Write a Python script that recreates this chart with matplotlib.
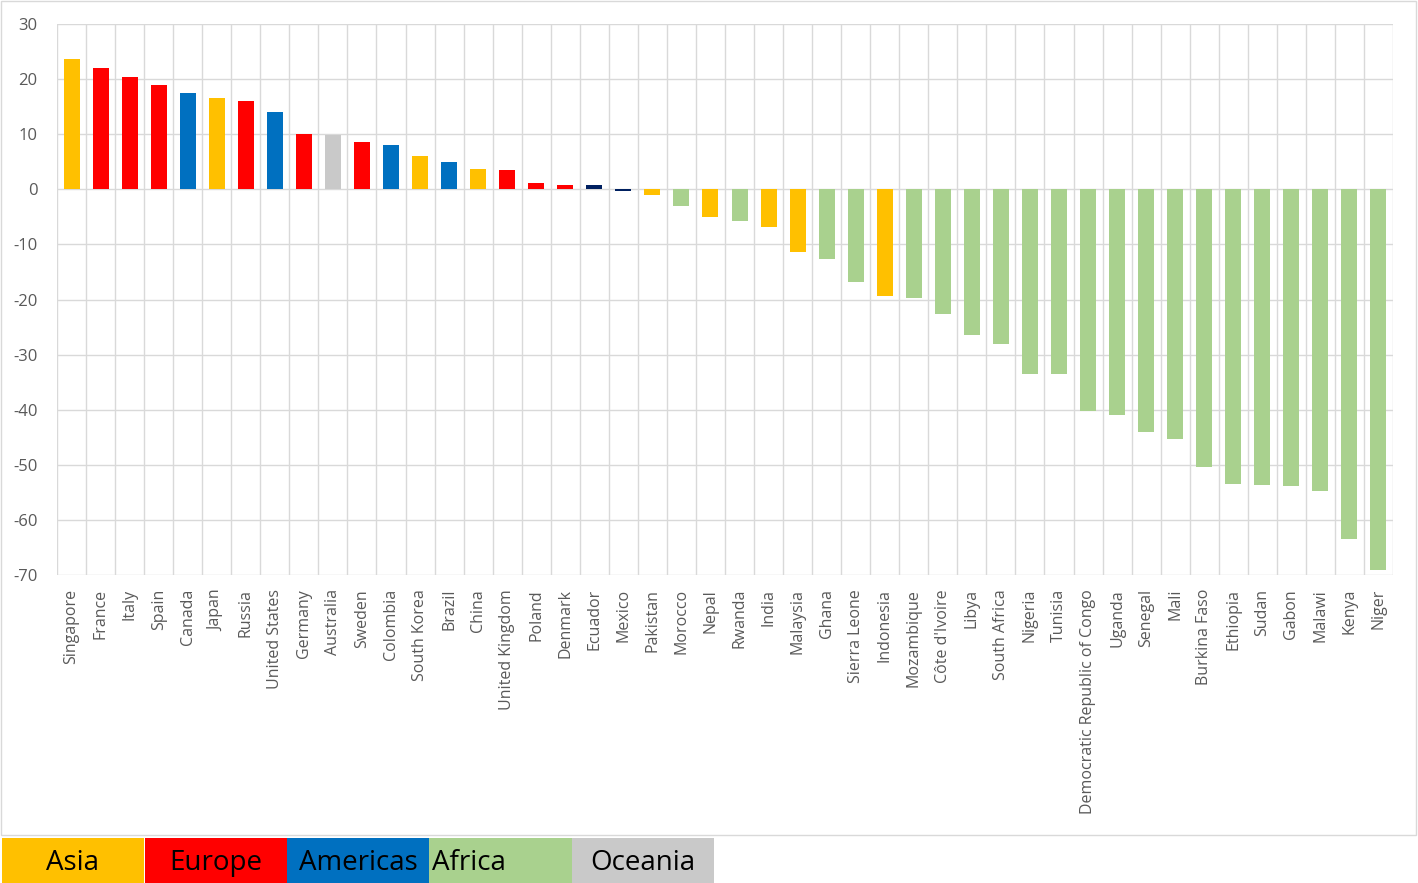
import numpy as np
from matplotlib import pyplot as plt
from matplotlib.patches import Rectangle

countries = ['Singapore', 'France', 'Italy', 'Spain', 'Canada', 'Japan', 'Russia',
             'United States', 'Germany', 'Australia', 'Sweden', 'Colombia',
             'South Korea', 'Brazil', 'China', 'United Kingdom', 'Poland', 'Denmark',
             'Ecuador', 'Mexico', 'Pakistan', 'Morocco', 'Nepal', 'Rwanda', 'India',
             'Malaysia', 'Ghana', 'Sierra Leone', 'Indonesia', 'Mozambique',
             "Côte d'Ivoire", 'Libya', 'South Africa', 'Nigeria', 'Tunisia',
             'Democratic Republic of Congo', 'Uganda', 'Senegal', 'Mali',
             'Burkina Faso', 'Ethiopia', 'Sudan', 'Gabon', 'Malawi', 'Kenya', 'Niger']
values = [23.6, 22.1, 20.3, 18.9, 17.4, 16.5, 16.1, 14.0, 10.0, 9.8, 8.5, 8.1,
          6.0, 4.9, 3.6, 3.5, 1.1, 0.7, 0.7, -0.3, -1.0, -3.1, -5.1, -5.8, -6.9,
          -11.3, -12.7, -16.9, -19.3, -19.8, -22.7, -26.5, -28.1, -33.6, -33.6,
          -40.2, -40.9, -44.1, -45.3, -50.4, -53.4, -53.6, -53.9, -54.7, -63.5, -69.1]
regions = ['Asia', 'Europe', 'Europe', 'Europe', 'Americas', 'Asia', 'Europe',
           'Americas', 'Europe', 'Oceania', 'Europe', 'Americas', 'Asia', 'Americas',
           'Asia', 'Europe', 'Europe', 'Europe', 'Navy', 'Navy', 'Asia', 'Africa',
           'Asia', 'Africa', 'Asia', 'Asia', 'Africa', 'Africa', 'Asia', 'Africa',
           'Africa', 'Africa', 'Africa', 'Africa', 'Africa', 'Africa', 'Africa',
           'Africa', 'Africa', 'Africa', 'Africa', 'Africa', 'Africa', 'Africa',
           'Africa', 'Africa']
legend_names = ['Asia', 'Europe', 'Americas', 'Africa', 'Oceania']

colors = {'Asia': '#FFC000', 'Europe': '#FF0000', 'Americas': '#0070C0',
          'Africa': '#A9D18E', 'Oceania': '#C9C9C9', 'Navy': '#002060'}

plt.rcParams['font.family'] = ['Open Sans', 'DejaVu Sans']
plt.rcParams['axes.unicode_minus'] = False

fig = plt.figure(figsize=(14.18, 8.83), dpi=100)
ax = fig.add_axes([57/1418, 1 - 575/883, (1393-57)/1418, (575-24)/883])

x = np.arange(len(countries))
ax.bar(x, values, width=0.55, color=[colors[r] for r in regions], zorder=3)

ax.set_xlim(-0.5, len(countries) - 0.5)
ax.set_ylim(-70, 30)
ax.set_yticks(np.arange(-70, 31, 10))
ax.set_xticks(x)
ax.set_xticklabels(countries, rotation=90, fontsize=11.5, color='#595959')
ax.set_xticks(np.arange(-0.5, len(countries), 1), minor=True)
ax.tick_params(axis='y', labelsize=12, colors='#595959', length=0, pad=14)
ax.tick_params(axis='x', which='both', length=0, pad=10)
ax.grid(axis='y', color='#D9D9D9', lw=1, zorder=0)
ax.grid(axis='x', which='minor', color='#D9D9D9', lw=1, zorder=0)
for s in ax.spines.values():
    s.set_visible(False)

# outer chart frame
fig.add_artist(Rectangle((1/1418, 1 - 835/883), 1415/1418, 834/883,
                         transform=fig.transFigure, fill=False,
                         edgecolor='#D9D9D9', lw=1))

# colour key at the bottom
box_w = 142 / 1418
for i, name in enumerate(legend_names):
    x0 = (2 + i * 142.5) / 1418
    fig.add_artist(Rectangle((x0, 0), box_w, 45/883, transform=fig.transFigure,
                             facecolor=colors[name], edgecolor='none'))
    if name == 'Africa':
        fig.text(x0 + 3/1418, 20/883, name, ha='left', va='center',
                 fontsize=20, color='black')
    else:
        fig.text(x0 + box_w / 2, 20/883, name, ha='center', va='center',
                 fontsize=20, color='black')

fig.savefig('out.png', dpi=100)
